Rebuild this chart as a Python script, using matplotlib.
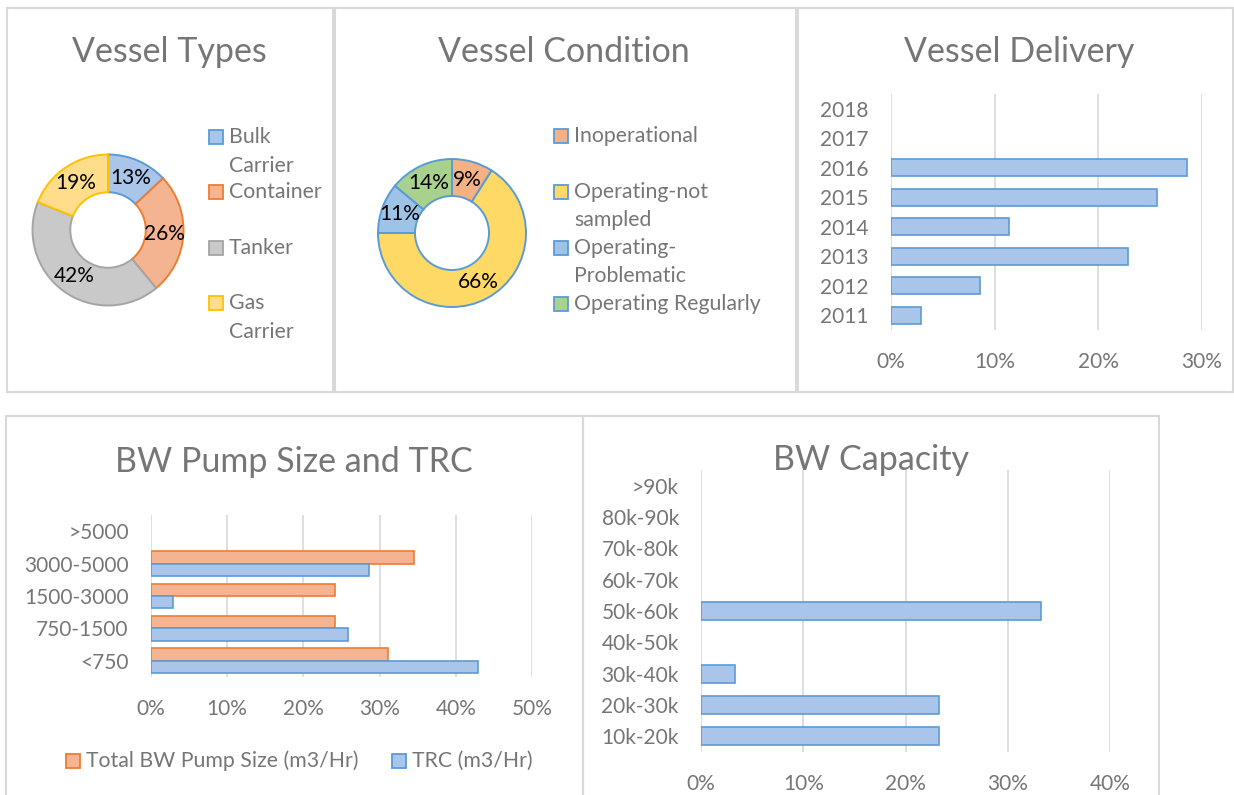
import matplotlib
matplotlib.use('Agg')
import matplotlib.pyplot as plt
from matplotlib.patches import Rectangle
from matplotlib.ticker import MultipleLocator, PercentFormatter

plt.rcParams['font.family'] = ['Lato', 'DejaVu Sans']

# ---- data ----
type_labels = ['Bulk\nCarrier', 'Container', 'Tanker', 'Gas\nCarrier']
type_share = [13, 26, 42, 19]

cond_labels = ['Inoperational', 'Operating-not\nsampled', 'Operating-\nProblematic', 'Operating Regularly']
cond_share = [9, 66, 11, 14]

delivery_years = ['2011', '2012', '2013', '2014', '2015', '2016', '2017', '2018']
delivery_share = [0.029, 0.086, 0.229, 0.114, 0.257, 0.286, 0.0, 0.0]

pump_bins = ['<750', '750-1500', '1500-3000', '3000-5000', '>5000']
pump_total = [0.311, 0.242, 0.242, 0.345, 0.0]
pump_trc = [0.429, 0.258, 0.029, 0.286, 0.0]
pump_series = ['Total BW Pump Size (m3/Hr)', 'TRC (m3/Hr)']

cap_bins = ['10k-20k', '20k-30k', '30k-40k', '40k-50k', '50k-60k',
            '60k-70k', '70k-80k', '80k-90k', '>90k']
cap_share = [0.233, 0.233, 0.033, 0.0, 0.333, 0.0, 0.0, 0.0, 0.0]

# excel-ish palette
BLUE, BLUE_F = '#5B9BD5', '#A9C5E9'
ORANGE, ORANGE_F = '#ED7D31', '#F5B491'
GRAY, GRAY_F = '#A5A5A5', '#C9C9C9'
GOLD, GOLD_F = '#FFC000', '#FFDD8A'
GREEN_F = '#A9D18E'
TXT = '#767676'
GRID = '#D9D9D9'

W, H = 1234, 795
fig = plt.figure(figsize=(W / 100, H / 100), dpi=100)


def rect(x0, y0, x1, y1):
    # pixel box (top-left origin) -> figure fraction
    return [x0 / W, 1 - y1 / H, (x1 - x0) / W, (y1 - y0) / H]


def panel(x0, y0, x1, y1):
    fig.add_artist(Rectangle((x0 / W, 1 - y1 / H), (x1 - x0) / W, (y1 - y0) / H,
                             transform=fig.transFigure, fill=False, ec=GRID, lw=1.5))


def title(x, y, s):
    fig.text(x / W, 1 - y / H, s, ha='center', va='center', fontsize=24.5, color=TXT)


def legend_entry(x, y, label, fc, ec, line=28.5):
    fig.add_artist(Rectangle((x / W, 1 - (y + 7) / H), 14 / W, 14 / H,
                             transform=fig.transFigure, fc=fc, ec=ec, lw=1.3))
    for k, part in enumerate(label.split('\n')):
        fig.text((x + 20) / W, 1 - (y + k * line) / H, part, va='center',
                 fontsize=15.3, color=TXT)


def donut(cx, cy, r, values, fills, edges):
    ax = fig.add_axes(rect(cx - r * 1.1, cy - r * 1.1, cx + r * 1.1, cy + r * 1.1))
    wedges, _, pcts = ax.pie(values, colors=fills, startangle=90, counterclock=False,
                             autopct=lambda p: f'{p:.0f}%', pctdistance=0.75,
                             wedgeprops=dict(width=0.5, lw=1.4),
                             textprops=dict(fontsize=15, color='black'))
    for w, e in zip(wedges, edges):
        w.set_edgecolor(e)
    ax.set_xlim(-1.1, 1.1)
    ax.set_ylim(-1.1, 1.1)
    ax.set_aspect('equal')
    return ax


def bar_axes(box, cats, xmax):
    ax = fig.add_axes(rect(*box))
    ax.set_xlim(0, xmax)
    ax.set_ylim(-0.5, len(cats) - 0.5)
    ax.set_yticks(range(len(cats)), cats)
    ax.xaxis.set_major_locator(MultipleLocator(0.1))
    ax.xaxis.set_major_formatter(PercentFormatter(1, decimals=0))
    ax.grid(axis='x', color=GRID, lw=1.2)
    ax.set_axisbelow(True)
    for s in ax.spines.values():
        s.set_visible(False)
    ax.tick_params(length=0, labelsize=15, labelcolor=TXT, pad=16)
    ax.patch.set_alpha(0)
    return ax


def hide_empty(bars):
    for b in bars:
        if b.get_width() == 0:
            b.set_visible(False)


# ---- panel frames ----
panel(7, 8, 333, 392)
panel(335, 8, 796, 392)
panel(798, 8, 1233, 392)
panel(6, 416, 583, 800)
panel(583, 416, 1159, 800)

# ---- Vessel Types ----
title(169, 52, 'Vessel Types')
donut(108, 230, 75.5, type_share, [BLUE_F, ORANGE_F, GRAY_F, GOLD_F],
      [BLUE, ORANGE, GRAY, GOLD])
for lab, y, fc, ec in zip(type_labels, [137, 192, 248, 303],
                          [BLUE_F, ORANGE_F, GRAY_F, GOLD_F], [BLUE, ORANGE, GRAY, GOLD]):
    legend_entry(209, y, lab, fc, ec)

# ---- Vessel Condition ----
title(564, 52, 'Vessel Condition')
cond_fills = ['#F4B183', '#FFD966', '#9DC3E6', GREEN_F]
donut(452, 233, 74, cond_share, cond_fills, [BLUE] * 4)
for lab, y, fc in zip(cond_labels, [136, 192, 248, 304], cond_fills):
    legend_entry(554, y, lab, fc, BLUE)

# ---- Vessel Delivery ----
title(1019, 52, 'Vessel Delivery')
ax = bar_axes((891, 94, 1202, 330), delivery_years, 0.3)
hide_empty(ax.barh(range(len(delivery_years)), delivery_share, height=0.57,
                   color=BLUE_F, edgecolor=BLUE, lw=1.2))

# ---- BW Pump Size and TRC ----
title(294, 462, 'BW Pump Size and TRC')
ax = bar_axes((151, 515, 532, 677), pump_bins, 0.5)
pos = range(len(pump_bins))
hide_empty(ax.barh([p + 0.1925 for p in pos], pump_total, height=0.385,
                   color=ORANGE_F, edgecolor=ORANGE, lw=1.2))
hide_empty(ax.barh([p - 0.1925 for p in pos], pump_trc, height=0.385,
                   color=BLUE_F, edgecolor=BLUE, lw=1.2))
legend_entry(66, 761, pump_series[0], ORANGE_F, ORANGE)
legend_entry(392, 761, pump_series[1], BLUE_F, BLUE)

# ---- BW Capacity ----
ax = bar_axes((701, 470, 1110, 752), cap_bins, 0.4)
hide_empty(ax.barh(range(len(cap_bins)), cap_share, height=0.58,
                   color=BLUE_F, edgecolor=BLUE, lw=1.2))
title(871, 460, 'BW Capacity')

fig.savefig('out.png', dpi=100)
